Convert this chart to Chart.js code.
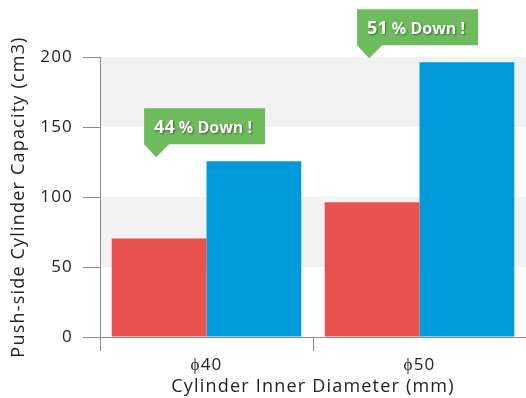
<!DOCTYPE html>
<html><head><meta charset="utf-8">
<script src="https://cdn.jsdelivr.net/npm/chart.js@4.4.0/dist/chart.umd.min.js"></script>
<style>html,body{margin:0;padding:0;background:#fff;}canvas{display:block;}</style>
</head><body>
<canvas id="c" width="526" height="398"></canvas>
<script>
const categories = ['\u03D540', '\u03D550'];
const pushSideNew = [70.4, 96.2];
const pushSideOld = [125.6, 196.3];
const reductionPct = ['44', '51'];
const yTicks = [0, 50, 100, 150, 200];

const FONT = '"Open Sans"';
const SPACING = '1.2px';

const spacingPlugin = {
  id: 'spacing',
  beforeUpdate(chart) { chart.ctx.letterSpacing = SPACING; },
  beforeLayout(chart) { chart.ctx.letterSpacing = SPACING; },
  beforeDraw(chart) { chart.ctx.letterSpacing = SPACING; }
};

const bandsPlugin = {
  id: 'bands',
  beforeDatasetsDraw(chart) {
    const {ctx, chartArea, scales: {y}} = chart;
    ctx.save();
    ctx.fillStyle = '#f2f2f2';
    [[50, 100], [150, 200]].forEach(([a, b]) => {
      const y1 = y.getPixelForValue(b), y2 = y.getPixelForValue(a);
      ctx.fillRect(chartArea.left + 1, y1, chartArea.right - chartArea.left, y2 - y1);
    });
    ctx.restore();
  }
};

const calloutPlugin = {
  id: 'callouts',
  afterDatasetsDraw(chart) {
    const ctx = chart.ctx;
    const m0 = chart.getDatasetMeta(0), m1 = chart.getDatasetMeta(1);
    categories.forEach((c, i) => {
      const tipX = m0.data[i].x - 3;
      const tipY = m1.data[i].y - 4;
      const left = tipX - 12, bottom = tipY - 13, w = 121, h = 36;
      ctx.save();
      ctx.letterSpacing = '0px';
      ctx.fillStyle = '#6dbb5c';
      ctx.beginPath();
      ctx.moveTo(left, bottom - h);
      ctx.lineTo(left + w, bottom - h);
      ctx.lineTo(left + w, bottom);
      ctx.lineTo(left + 25, bottom);
      ctx.lineTo(tipX, tipY);
      ctx.lineTo(left, bottom);
      ctx.closePath();
      ctx.fill();
      ctx.shadowColor = 'rgba(0,0,0,0.45)';
      ctx.shadowOffsetX = 1; ctx.shadowOffsetY = 1; ctx.shadowBlur = 2;
      ctx.fillStyle = '#fff';
      ctx.textBaseline = 'alphabetic';
      ctx.font = 'bold 18px ' + FONT;
      const x0 = left + 10, base = bottom - 11;
      ctx.fillText(reductionPct[i], x0, base);
      const w1 = ctx.measureText(reductionPct[i]).width;
      ctx.font = 'bold 16px ' + FONT;
      ctx.fillText(' % Down !', x0 + w1, base);
      ctx.restore();
    });
  }
};

new Chart(document.getElementById('c'), {
  type: 'bar',
  data: {
    labels: categories,
    datasets: [
      {data: pushSideNew, backgroundColor: '#e8534f', borderWidth: 0},
      {data: pushSideOld, backgroundColor: '#0099db', borderWidth: 0}
    ]
  },
  options: {
    responsive: false,
    animation: false,
    layout: {padding: {top: 57, right: 0, left: 0, bottom: 0}},
    plugins: {legend: {display: false}, tooltip: {enabled: false}},
    datasets: {bar: {categoryPercentage: 0.89, barPercentage: 1}},
    scales: {
      x: {
        afterFit(s) { s.height = 61; },
        grid: {offset: true, drawOnChartArea: false, color: '#8c8c8c', tickLength: 14},
        border: {color: '#8c8c8c'},
        ticks: {color: '#222', font: {family: FONT, size: 17}, padding: 4},
        title: {display: true, text: 'Cylinder Inner Diameter (mm)', color: '#222', font: {family: FONT, size: 18}, padding: {top: 0, bottom: 0}}
      },
      y: {
        min: 0, max: 200,
        afterBuildTicks(s) { s.ticks = yTicks.map(v => ({value: v})); },
        afterFit(s) { s.width = 100; },
        grid: {drawOnChartArea: false, color: '#8c8c8c', tickLength: 17},
        border: {color: '#8c8c8c'},
        ticks: {color: '#222', font: {family: FONT, size: 17}, padding: 10},
        title: {display: true, text: 'Push-side Cylinder Capacity (cm3)', color: '#222', font: {family: FONT, size: 18}, padding: {top: 8, bottom: 0}}
      }
    }
  },
  plugins: [spacingPlugin, bandsPlugin, calloutPlugin]
});
</script>
</body></html>
